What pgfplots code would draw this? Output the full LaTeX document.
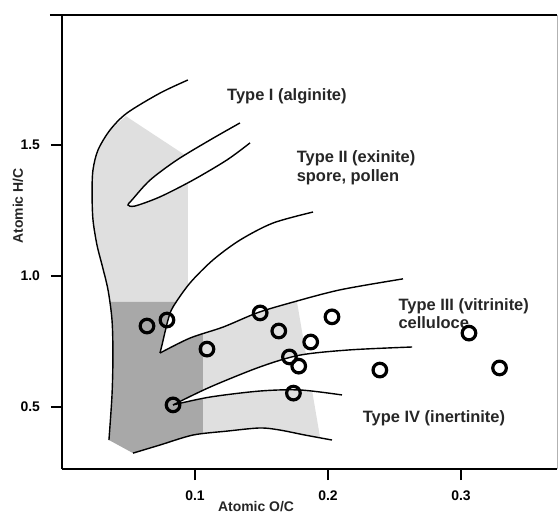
\documentclass[border=0pt]{standalone}
\usepackage{fontspec}
\setmainfont{Liberation Sans}
\usepackage{pgfplots}
\pgfplotsset{compat=1.18}
\definecolor{lgrey}{RGB}{223,223,223}
\definecolor{dgrey}{RGB}{168,168,168}
\begin{document}
\begin{tikzpicture}
\begin{axis}[
 scale only axis, width=495bp, height=454bp,
 xmin=0, xmax=0.3722, ymin=0.2634, ymax=1.996,
 axis x line*=bottom, axis y line*=left,
 axis line style={-, line width=1.6bp},
 xtick={0.1,0.2,0.3}, ytick={0.5,1.0,1.5},
 tick align=outside, major tick length=11bp,
 tick style={line width=1.4bp, black},
 ticklabel style={font=\bfseries\fontsize{14}{16}\selectfont},
 xticklabel style={yshift=-7bp},
 yticklabel style={xshift=-7.5bp},
 /pgf/number format/fixed, /pgf/number format/fixed zerofill,
 /pgf/number format/precision=1, /pgf/number format/assume math mode=true,
 clip=false,
]
% light grey upper region
\addplot[draw=none, fill=lgrey, forget plot] coordinates {
(0.0480,1.610) (0.0947,1.454) (0.0947,0.901) (0.0358,0.901) (0.0346,0.947)
(0.0301,1.042) (0.0263,1.118) (0.0233,1.214) (0.0226,1.317) (0.0233,1.405)
(0.0271,1.481) (0.0361,1.557)} -- cycle;
% light grey lower region
\addplot[draw=none, fill=lgrey, forget plot] coordinates {
(0.106,0.810) (0.1211,0.825) (0.1466,0.879) (0.1714,0.917) (0.1759,0.925)
(0.194,0.385) (0.1827,0.393) (0.1639,0.412) (0.1489,0.420) (0.1241,0.408)
(0.106,0.401)} -- cycle;
% dark grey region
\addplot[draw=none, fill=dgrey, forget plot] coordinates {
(0.0358,0.901) (0.106,0.901) (0.106,0.401) (0.0985,0.393) (0.0737,0.355)
(0.0534,0.324) (0.0353,0.374) (0.0376,0.546) (0.0383,0.698) (0.0376,0.832)} -- cycle;
% white wedges
\addplot[draw=none, fill=white, forget plot] coordinates {
(0.1338,1.584) (0.1113,1.519) (0.0865,1.443) (0.0662,1.366) (0.0526,1.290)
(0.0496,1.271) (0.0549,1.267) (0.0737,1.302) (0.0985,1.366) (0.1241,1.443)
(0.1414,1.508)} -- cycle;
\addplot[draw=none, fill=white, forget plot] coordinates {
(0.1887,1.244) (0.1586,1.202) (0.1338,1.137) (0.1135,1.061) (0.0962,0.973)
(0.0835,0.882) (0.0797,0.832) (0.0752,0.737) (0.0737,0.706) (0.0962,0.763)
(0.1211,0.805) (0.1466,0.859) (0.1714,0.897) (0.2090,0.947) (0.2564,0.989)} -- cycle;
\addplot[draw=none, fill=white, forget plot] coordinates {
(0.0835,0.508) (0.1113,0.576) (0.1489,0.653) (0.1789,0.698) (0.2165,0.718)
(0.2632,0.729) (0.2105,0.546) (0.1789,0.565) (0.1489,0.561) (0.1113,0.538)} -- cycle;
% boundary curves
\addplot[smooth, line width=1.4bp, black] coordinates {
(0.0947,1.748) (0.0737,1.698) (0.0489,1.622) (0.0361,1.557) (0.0271,1.481)
(0.0233,1.405) (0.0226,1.317) (0.0233,1.214) (0.0263,1.118) (0.0301,1.042)
(0.0346,0.947) (0.0376,0.832) (0.0383,0.698) (0.0376,0.546) (0.0353,0.374)};
\addplot[smooth, line width=1.4bp, black] coordinates {
(0.1338,1.584) (0.1113,1.519) (0.0865,1.443) (0.0662,1.366) (0.0526,1.290)
(0.0496,1.271) (0.0549,1.267) (0.0737,1.302) (0.0985,1.366) (0.1241,1.443)
(0.1414,1.508)};
\addplot[smooth, line width=1.4bp, black] coordinates {
(0.1887,1.244) (0.1586,1.202) (0.1338,1.137) (0.1135,1.061) (0.0962,0.973)
(0.0835,0.882) (0.0797,0.832) (0.0752,0.737) (0.0737,0.706)};
\addplot[smooth, line width=1.4bp, black] coordinates {
(0.0737,0.706) (0.0962,0.763) (0.1211,0.805) (0.1466,0.859) (0.1714,0.897)
(0.2090,0.947) (0.2564,0.989)};
\addplot[smooth, line width=1.4bp, black] coordinates {
(0.0835,0.508) (0.1113,0.576) (0.1489,0.653) (0.1789,0.698) (0.2165,0.718)
(0.2632,0.729)};
\addplot[smooth, line width=1.4bp, black] coordinates {
(0.0835,0.508) (0.1113,0.538) (0.1489,0.561) (0.1789,0.565) (0.2105,0.546)};
\addplot[smooth, line width=1.4bp, black] coordinates {
(0.0534,0.324) (0.0737,0.355) (0.0985,0.393) (0.1241,0.408) (0.1489,0.420)
(0.1639,0.412) (0.1827,0.393) (0.2030,0.374)};
% labels
\tikzset{typelab/.style={anchor=base west, inner sep=0pt, font=\bfseries\fontsize{16.5}{19}\selectfont, text=black!85}}
\node[typelab] at (axis cs:0.1241,1.669) {Type I (alginite)};
\node[typelab] at (axis cs:0.1764,1.4325) {Type II (exinite)};
\node[typelab] at (axis cs:0.1764,1.360) {spore, pollen};
\node[typelab] at (axis cs:0.2529,0.870) {Type III (vitrinite)};
\node[typelab] at (axis cs:0.2529,0.800) {celluloce};
\node[typelab] at (axis cs:0.2261,0.440) {Type IV (inertinite)};
\node[rotate=90, font=\bfseries\fontsize{14}{16}\selectfont, text=black!85] at (axis cs:-0.0331,1.267) {Atomic H/C};
\node[anchor=base, inner sep=0pt, font=\bfseries\fontsize{14}{16}\selectfont, text=black!85] at (axis cs:0.1459,0.1031) {Atomic O/C};
% data points
\addplot[only marks, mark=o, mark size=6.8bp, mark options={line width=3.2bp, black}] coordinates {
(0.0639,0.809) (0.0789,0.832) (0.109,0.721) (0.0835,0.508) (0.149,0.859)
(0.163,0.790) (0.187,0.748) (0.171,0.691) (0.178,0.656) (0.174,0.553)
(0.203,0.844) (0.239,0.641) (0.306,0.782) (0.329,0.649)};
\coordinate (bbLL) at (rel axis cs:0,0);
\coordinate (bbUR) at (rel axis cs:1,1);
\end{axis}
\draw[line width=1.6bp] ([xshift=-12bp]bbUR -| bbLL) -- (bbUR);
\draw[line width=0.6bp, gray!60] (bbUR) -- (bbUR |- bbLL);
\pgfresetboundingbox
\useasboundingbox ([xshift=-62bp,yshift=-45bp]bbLL) rectangle ([xshift=1bp,yshift=15bp]bbUR);
\end{tikzpicture}
\end{document}
